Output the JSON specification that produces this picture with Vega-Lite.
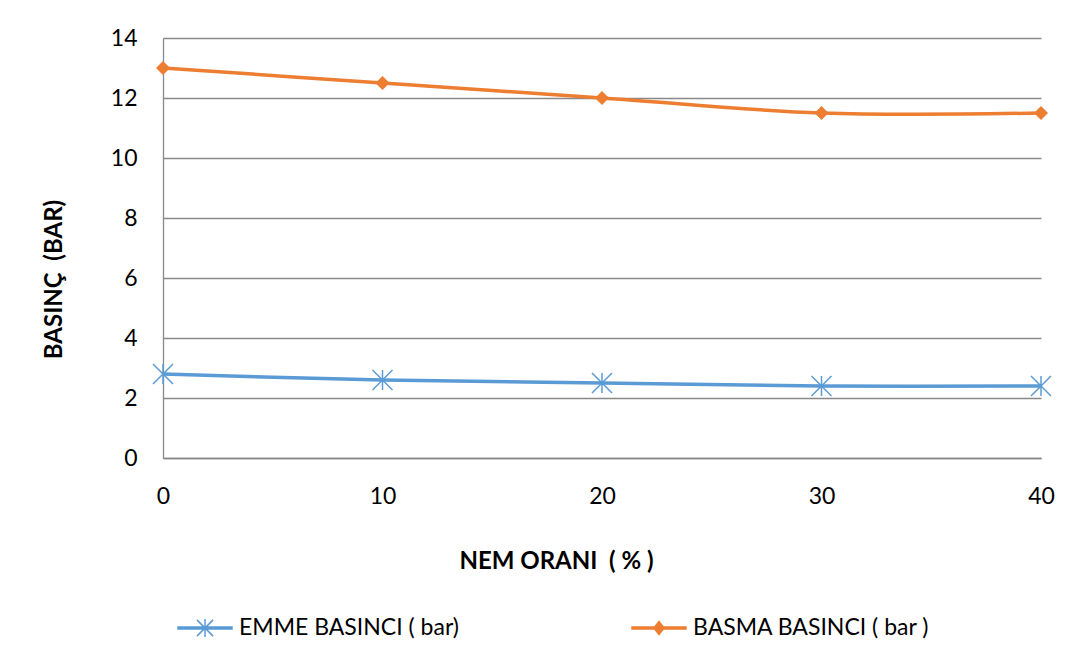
{
  "$schema": "https://vega.github.io/schema/vega-lite/v6.json",
  "width": 878,
  "height": 420,
  "autosize": {"type": "none"},
  "padding": {"left": 163, "top": 38, "right": 51, "bottom": 202},
  "background": "white",
  "config": {"font": "Lato", "view": {"stroke": null}},
  "data": {
    "values": [
      {"nem": 0, "series": "EMME BASINCI ( bar)", "value": 2.8},
      {"nem": 10, "series": "EMME BASINCI ( bar)", "value": 2.6},
      {"nem": 20, "series": "EMME BASINCI ( bar)", "value": 2.5},
      {"nem": 30, "series": "EMME BASINCI ( bar)", "value": 2.4},
      {"nem": 40, "series": "EMME BASINCI ( bar)", "value": 2.4},
      {"nem": 0, "series": "BASMA BASINCI ( bar )", "value": 13},
      {"nem": 10, "series": "BASMA BASINCI ( bar )", "value": 12.5},
      {"nem": 20, "series": "BASMA BASINCI ( bar )", "value": 12},
      {"nem": 30, "series": "BASMA BASINCI ( bar )", "value": 11.5},
      {"nem": 40, "series": "BASMA BASINCI ( bar )", "value": 11.5}
    ]
  },
  "encoding": {
    "x": {
      "field": "nem",
      "type": "quantitative",
      "scale": {"domain": [0, 40], "nice": false, "zero": false},
      "axis": {
        "title": "NEM ORANI\u00a0 ( % )",
        "values": [0, 10, 20, 30, 40],
        "grid": false,
        "ticks": false,
        "tickSize": 0,
        "domainColor": "#898989",
        "domainWidth": 1.3,
        "labelFont": "Lato",
        "labelFontSize": 23,
        "labelColor": "#000000",
        "labelPadding": 27,
        "labelFlush": false,
        "titleFont": "Lato",
        "titleFontSize": 24,
        "titleFontWeight": "bold",
        "titleColor": "#000000",
        "titleX": 393,
        "titleY": 103,
        "titleAlign": "center",
        "titleBaseline": "middle"
      }
    },
    "y": {
      "field": "value",
      "type": "quantitative",
      "scale": {"domain": [0, 14], "nice": false},
      "axis": {
        "title": "BASINÇ\u00a0 (BAR)",
        "values": [0, 2, 4, 6, 8, 10, 12, 14],
        "grid": true,
        "gridColor": "#898989",
        "gridWidth": 1.3,
        "ticks": false,
        "tickSize": 0,
        "domainColor": "#898989",
        "domainWidth": 1.3,
        "labelFont": "Lato",
        "labelFontSize": 23,
        "labelColor": "#000000",
        "labelPadding": 26,
        "titleFont": "Lato",
        "titleFontSize": 24,
        "titleFontWeight": "bold",
        "titleColor": "#000000",
        "titleX": -109,
        "titleY": 241,
        "titleAngle": -90,
        "titleAlign": "center",
        "titleBaseline": "middle"
      }
    }
  },
  "layer": [
    {
      "mark": {"type": "line", "interpolate": "cardinal", "strokeWidth": 3.5},
      "encoding": {
        "color": {
          "field": "series",
          "type": "nominal",
          "scale": {
            "domain": ["EMME BASINCI ( bar)", "BASMA BASINCI ( bar )"],
            "range": ["#5B9BD5", "#ED7D31"]
          },
          "legend": {
            "title": null,
            "orient": "none",
            "legendX": 14,
            "legendY": 562,
            "direction": "horizontal",
            "symbolSize": 2916,
            "symbolStrokeWidth": 1.5,
            "labelFont": "Lato",
            "labelFontSize": 23,
            "labelColor": "#000000",
            "labelOffset": 6,
            "labelLimit": 500,
            "columnPadding": 170,
            "padding": 0,
            "encode": {
              "symbols": {
                "update": {
                  "shape": {"signal": "datum.value === 'EMME BASINCI ( bar)' ? 'M-1,-0.035H1V0.035H-1Z M0,-0.33V0.33 M-0.3,-0.3L0.3,0.3 M-0.3,0.3L0.3,-0.3' : 'M-1,-0.035H1V0.035H-1Z M0,-0.24L0.19,0L0,0.24L-0.19,0Z'"},
                  "fill": {"scale": "color", "field": "value"},
                  "stroke": {"scale": "color", "field": "value"},
                  "strokeWidth": {"value": 1.5},
                  "opacity": {"value": 1}
                }
              }
            }
          }
        }
      }
    },
    {
      "transform": [{"filter": "datum.series === 'EMME BASINCI ( bar)'"}],
      "mark": {
        "type": "point",
        "shape": "M0,-1V1M-1,-1L1,1M-1,1L1,-1",
        "size": 400,
        "filled": false,
        "strokeWidth": 1.5,
        "color": "#5B9BD5",
        "opacity": 1
      }
    },
    {
      "transform": [{"filter": "datum.series === 'BASMA BASINCI ( bar )'"}],
      "mark": {
        "type": "point",
        "shape": "diamond",
        "size": 196,
        "filled": true,
        "color": "#ED7D31",
        "opacity": 1
      }
    }
  ]
}
